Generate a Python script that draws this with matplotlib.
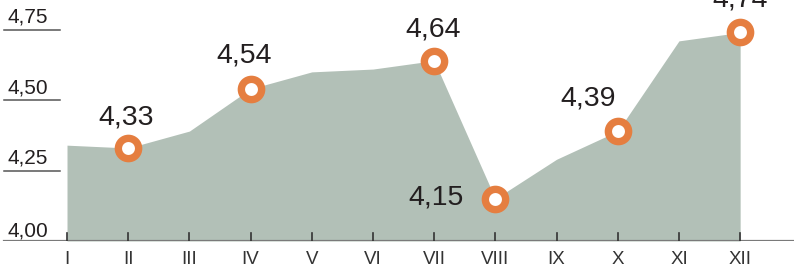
import matplotlib.pyplot as plt
from matplotlib import font_manager

# средняя величина по месяцам
months = ['I', 'II', 'III', 'IV', 'V', 'VI', 'VII', 'VIII', 'IX', 'X', 'XI', 'XII']
values = [4.34, 4.33, 4.39, 4.54, 4.60, 4.61, 4.64, 4.15, 4.29, 4.39, 4.71, 4.74]
# подписанные точки: индекс месяца, сдвиг подписи в пикселях
marked = [1, 3, 6, 7, 9, 11]
label_shift = {1: (-2, 30), 3: (-6, 33), 6: (-1, 31), 7: (-59, 1), 9: (-30, 33), 11: (0, 33)}
yticks = [4.00, 4.25, 4.50, 4.75]

names = {f.name for f in font_manager.fontManager.ttflist}
narrow = 'Liberation Sans Narrow' if 'Liberation Sans Narrow' in names else 'Liberation Sans'
txt = '#231f20'
fill_c = '#b2c0b7'
orange = '#e57e40'

fig = plt.figure(figsize=(7.94, 2.76), dpi=100)
ax = fig.add_axes([0, 35 / 276, 1, 241 / 276])
x = list(range(len(months)))

ax.fill_between(x, 4.0, values, color=fill_c, lw=0, zorder=1)
ax.plot([x[i] for i in marked], [values[i] for i in marked], 'o', ms=14.6, mew=5.3,
        mec=orange, mfc='white', zorder=3, clip_on=False)

for i in marked:
    dx, dy = label_shift[i]
    ax.annotate(f'{values[i]:.2f}'.replace('.', ','), (x[i], values[i]),
                xytext=(dx * 0.72, dy * 0.72), textcoords='offset points',
                ha='center', va='center', fontsize=20.5, color=txt,
                family='Liberation Sans', zorder=4, annotation_clip=False)

ax.set_xlim(-1.095, 11.88)
ax.set_ylim(4.0, 4.855)
ax.axis('off')

# линия оси и засечки
ax.axhline(4.0, xmin=4 / 794, xmax=1, color='#7a7a7a', lw=1.6, zorder=2)
for i in x:
    ax.plot([i, i], [4.0, 4.0 + 8 / 282], color='#333333', lw=1.2, zorder=2)
    ax.text(i, 4.0 - 19 / 282, months[i], ha='center', va='center', fontsize=13.5,
            color='#333333', family=narrow)

# короткие линии сетки и подписи слева
for v in yticks:
    if v > 4.0:
        ax.axhline(v, xmin=4 / 794, xmax=60 / 794, color='#555555', lw=1.1, zorder=2)
    gap = 7 if v > 4.0 else 4.5
    ax.text(-1.095 + 8 / 61.2, v + gap / 282, f'{v:.2f}'.replace('.', ','),
            ha='left', va='baseline', fontsize=15, color=txt, family='Liberation Sans')

fig.savefig('out.png', dpi=100)
